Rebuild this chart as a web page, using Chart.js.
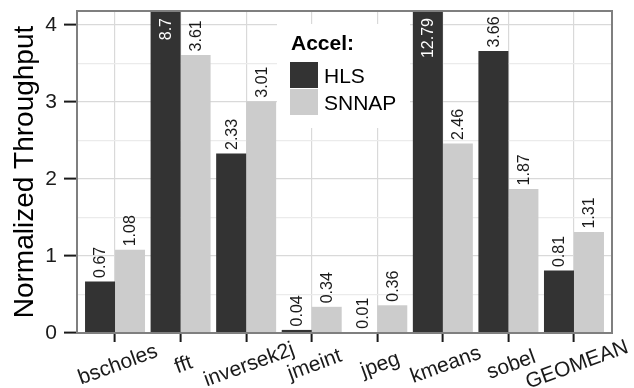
<!DOCTYPE html>
<html><head><meta charset="utf-8">
<script src="https://cdn.jsdelivr.net/npm/chart.js@4.4.1/dist/chart.umd.min.js"></script>
<style>html,body{margin:0;padding:0;background:#fff}#wrap{width:634px;height:388px}</style>
</head><body><div id="wrap"><canvas id="c" width="634" height="388"></canvas></div>
<script>
const categories = ['bscholes','fft','inversek2j','jmeint','jpeg','kmeans','sobel','GEOMEAN'];
const seriesNames = ['HLS','SNNAP'];
const hlsValues = [0.67, 8.7, 2.33, 0.04, 0.01, 12.79, 3.66, 0.81];
const snnapValues = [1.08, 3.61, 3.01, 0.34, 0.36, 2.46, 1.87, 1.31];
const yTickValues = [0, 1, 2, 3, 4];
const yMax = 4.18;

const FONT = '"Liberation Sans", Arial, Helvetica, sans-serif';
const colors = ['#333333', '#cccccc'];
const seriesValues = [hlsValues, snnapValues];

const gridTicks = [];
yTickValues.forEach(v => { gridTicks.push(v); if (v + 0.5 <= yMax) gridTicks.push(v + 0.5); });

const overlay = {
  id: 'overlay',
  afterDatasetsDraw(chart) {
    const ctx = chart.ctx, area = chart.chartArea;
    ctx.save();
    ctx.font = '16px ' + FONT;
    chart.data.datasets.forEach((ds, di) => {
      const meta = chart.getDatasetMeta(di);
      meta.data.forEach((bar, i) => {
        const v = seriesValues[di][i];
        const clipped = bar.y < area.top;
        ctx.save();
        ctx.translate(bar.x + 1, clipped ? area.top + 7 : bar.y - 3.5);
        ctx.rotate(-Math.PI / 2);
        ctx.textAlign = clipped ? 'right' : 'left';
        ctx.textBaseline = 'middle';
        ctx.fillStyle = clipped ? '#ffffff' : '#1a1a1a';
        ctx.fillText(String(v), 0, 0);
        ctx.restore();
      });
    });
    ctx.strokeStyle = '#7f7f7f';
    ctx.lineWidth = 2;
    ctx.strokeRect(area.left, area.top, area.right - area.left, area.bottom - area.top);
    ctx.restore();
  },
  afterDraw(chart) {
    const ctx = chart.ctx, area = chart.chartArea;
    const xs = chart.scales.x;
    ctx.save();
    ctx.font = '21px ' + FONT;
    ctx.fillStyle = '#1a1a1a';
    ctx.textAlign = 'center';
    ctx.textBaseline = 'middle';
    categories.forEach((c, i) => {
      const px = xs.getPixelForValue(i);
      ctx.save();
      ctx.translate(px + 3, area.bottom + 32);
      ctx.rotate(-20 * Math.PI / 180);
      ctx.fillText(c, 0, 0);
      ctx.restore();
    });
    const lx = area.left + 200, ly = area.top + 13;
    ctx.fillStyle = '#ffffff';
    ctx.fillRect(lx, ly, 133, 104);
    ctx.fillStyle = '#000000';
    ctx.textAlign = 'left';
    ctx.textBaseline = 'alphabetic';
    ctx.font = 'bold 21px ' + FONT;
    ctx.fillText('Accel:', lx + 14, ly + 26);
    ctx.font = '21px ' + FONT;
    seriesNames.forEach((n, i) => {
      ctx.fillStyle = colors[i];
      ctx.fillRect(lx + 13, ly + 38 + i * 27, 28, 26);
      ctx.fillStyle = '#000000';
      ctx.fillText(n, lx + 47, ly + 59 + i * 27);
    });
    ctx.restore();
  }
};

new Chart(document.getElementById('c'), {
  type: 'bar',
  data: {
    datasets: seriesNames.map((n, di) => ({
      label: n,
      data: seriesValues[di].map((v, i) => ({ x: i, y: v })),
      backgroundColor: colors[di],
      borderWidth: 0,
      categoryPercentage: 0.915,
      barPercentage: 1
    }))
  },
  options: {
    responsive: false,
    animation: false,
    devicePixelRatio: 1,
    layout: { padding: { left: 0, right: 22, top: 11, bottom: 0 } },
    plugins: { legend: { display: false }, tooltip: { enabled: false } },
    scales: {
      x: {
        type: 'linear', min: -0.58, max: 7.58, offset: false,
        afterBuildTicks: ax => { ax.ticks = categories.map((c, i) => ({ value: i })); },
        afterFit: ax => { ax.height = 55; ax.paddingLeft = 0; ax.paddingRight = 0; },
        ticks: { display: false },
        grid: { offset: false, color: '#d9d9d9', lineWidth: 1.2, drawTicks: true, tickLength: 9, tickColor: '#1a1a1a', tickWidth: 2 },
        border: { display: false }
      },
      y: {
        min: 0, max: yMax,
        afterBuildTicks: ax => { ax.ticks = gridTicks.map(v => ({ value: v })); },
        afterFit: ax => { ax.width = 77; ax.paddingTop = 0; ax.paddingBottom = 0; },
        ticks: {
          callback: v => (yTickValues.includes(v) ? String(v) : ''),
          font: { family: FONT, size: 21 }, color: '#1a1a1a', padding: 7
        },
        grid: {
          color: ctx => (yTickValues.includes(ctx.tick.value) ? '#d9d9d9' : '#ebebeb'),
          lineWidth: 1.2,
          drawTicks: true, tickLength: 13, tickWidth: 2,
          tickColor: ctx => (yTickValues.includes(ctx.tick.value) ? '#1a1a1a' : 'rgba(0,0,0,0)')
        },
        border: { display: false },
        title: { display: true, text: 'Normalized Throughput', color: '#000', font: { family: FONT, size: 28 }, padding: { top: 8, bottom: 0 } }
      }
    }
  },
  plugins: [overlay]
});
</script></body></html>
